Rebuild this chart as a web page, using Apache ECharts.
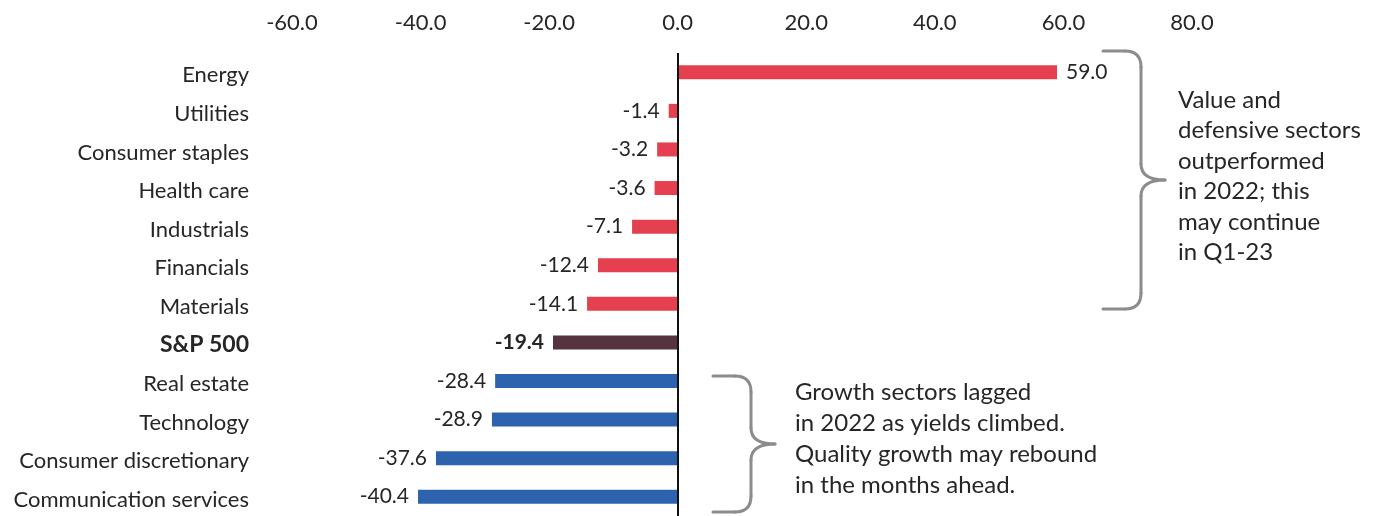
<!DOCTYPE html>
<html>
<head>
<meta charset="utf-8">
<script src="https://cdn.jsdelivr.net/npm/echarts@6/dist/echarts.min.js"></script>
<style>
  html, body { margin: 0; padding: 0; background: #ffffff; }
  #chart { width: 1375px; height: 516px; }
</style>
</head>
<body>
<div id="chart"></div>
<script>
// Sector returns for 2022 (%), top to bottom
const sectors = [
  'Energy', 'Utilities', 'Consumer staples', 'Health care', 'Industrials',
  'Financials', 'Materials', 'S&P 500', 'Real estate', 'Technology',
  'Consumer discretionary', 'Communication services'
];
const returns = [59.0, -1.4, -3.2, -3.6, -7.1, -12.4, -14.1, -19.4, -28.4, -28.9, -37.6, -40.4];
// Group of each row: value/defensive, benchmark, growth
const groups = ['value', 'value', 'value', 'value', 'value', 'value', 'value', 'index', 'growth', 'growth', 'growth', 'growth'];
const xTicks = [-60, -40, -20, 0, 20, 40, 60, 80];

const groupColors = { value: '#e5404f', index: '#55343f', growth: '#2d62ae' };
const FONT = 'Lato, "Open Sans", sans-serif';
const TEXT = '#262626';

const chart = echarts.init(document.getElementById('chart'), null, { renderer: 'canvas' });

const braceStyle = { stroke: '#8c8c8c', lineWidth: 3, fill: null, lineCap: 'round' };

// Curly brace built from lines and quadratic curves:
// flat ends start at x0, spine at xs, point at xt
function brace(x0, xs, xt, top, bottom, r) {
  const mid = (top + bottom) / 2;
  const line = (x1, y1, x2, y2) => ({ type: 'line', shape: { x1, y1, x2, y2 }, style: braceStyle });
  const curve = (x1, y1, cpx1, cpy1, x2, y2) => ({ type: 'bezierCurve', shape: { x1, y1, x2, y2, cpx1, cpy1 }, style: braceStyle });
  return [
    line(x0, top, xs - r, top),
    curve(xs - r, top, xs, top, xs, top + r),
    line(xs, top + r, xs, mid - r),
    curve(xs, mid - r, xs, mid, xt, mid),
    curve(xt, mid, xs, mid, xs, mid + r),
    line(xs, mid + r, xs, bottom - r),
    curve(xs, bottom - r, xs, bottom, xs - r, bottom),
    line(xs - r, bottom, x0, bottom)
  ];
}

const option = {
  animation: false,
  backgroundColor: '#ffffff',
  grid: { left: 292, top: 53, width: 900, height: 468, containLabel: false },
  xAxis: {
    type: 'value',
    position: 'top',
    min: -60, max: 80, interval: 20,
    axisLine: { show: false },
    axisTick: { show: false },
    splitLine: { show: false },
    axisLabel: {
      margin: 19,
      fontFamily: FONT, fontSize: 22, color: TEXT,
      formatter: v => xTicks.includes(v) ? v.toFixed(1) : ''
    }
  },
  yAxis: {
    type: 'category',
    data: sectors,
    inverse: true,
    axisLine: { show: false },
    axisTick: { show: false },
    axisLabel: {
      margin: 43,
      fontFamily: FONT, fontSize: 22, color: TEXT,
      formatter: v => v === 'S&P 500' ? '{b|' + v + '}' : '{n|' + v + '}',
      rich: {
        n: { fontFamily: FONT, fontSize: 22, color: TEXT, padding: [6, 0, 0, 0] },
        b: { fontFamily: FONT, fontSize: 23, fontWeight: 'bold', color: TEXT, padding: [4, 0, 0, 0] }
      }
    }
  },
  series: [{
    type: 'bar',
    barWidth: 14,
    data: returns.map((v, i) => ({
      value: v,
      itemStyle: { color: groupColors[groups[i]] },
      label: {
        position: v >= 0 ? 'right' : 'left',
        fontWeight: groups[i] === 'index' ? 'bold' : 'normal'
      }
    })),
    label: {
      show: true,
      distance: 9,
      fontFamily: FONT, fontSize: 21, color: TEXT,
      formatter: p => p.value.toFixed(1)
    },
    markLine: {
      silent: true,
      symbol: 'none',
      label: { show: false },
      lineStyle: { color: '#111111', width: 2, type: 'solid' },
      data: [{ xAxis: 0 }]
    }
  }],
  graphic: [
    ...brace(1103, 1141, 1165, 51, 309, 16),
    ...brace(713, 751, 775, 376, 512, 16),
    {
      type: 'text', left: 1178, top: 85,
      style: {
        text: 'Value and\ndefensive sectors\noutperformed\nin 2022; this\nmay continue\nin Q1-23',
        font: '24px ' + FONT, fill: TEXT, lineHeight: 30.4
      }
    },
    {
      type: 'text', left: 795, top: 377,
      style: {
        text: 'Growth sectors lagged\nin 2022 as yields climbed.\nQuality growth may rebound\nin the months ahead.',
        font: '24px ' + FONT, fill: TEXT, lineHeight: 31
      }
    }
  ]
};

chart.setOption(option);
</script>
</body>
</html>
